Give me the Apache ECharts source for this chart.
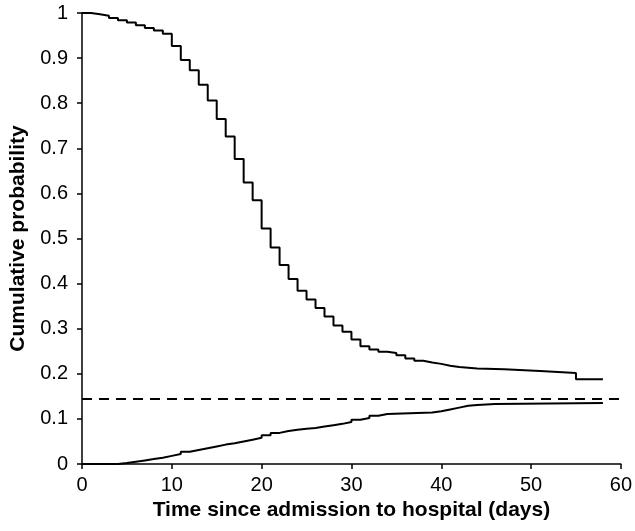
<!DOCTYPE html>
<html>
<head>
<meta charset="utf-8">
<script src="https://cdn.jsdelivr.net/npm/echarts@6/dist/echarts.min.js"></script>
<style>
  html, body { margin: 0; padding: 0; background: #fff; }
  #chart { width: 635px; height: 531px; }
</style>
</head>
<body>
<div id="chart"></div>
<script>
// upper curve (cumulative probability of remaining in hospital)
var survDays = [0,1,2,3,4,5,6,7,8,9,10,11,12,13,14,15,16,17,18,19,20,21,22,23,24,25,26,27,28,29,30,31,32,33,34,35,36,37,38,39,40,41,42,44,47,51,55,58];
var survVals = [1.000,0.997,0.994,0.989,0.984,0.979,0.973,0.967,0.961,0.954,0.927,0.896,0.873,0.841,0.806,0.765,0.726,0.676,0.624,0.585,0.522,0.480,0.441,0.410,0.384,0.365,0.346,0.327,0.307,0.293,0.276,0.261,0.254,0.249,0.246,0.241,0.234,0.229,0.225,0.222,0.218,0.215,0.212,0.210,0.206,0.202,0.188,0.188];

// lower curve
var incDays = [0,4,5,6,7,8,9,10,11,12,13,14,15,16,17,18,19,20,21,22,23,24,25,26,27,28,29,30,31,32,33,34,39,40,41,42,43,44,46,58];
var incVals = [0,0.002,0.005,0.008,0.011,0.014,0.018,0.022,0.027,0.031,0.035,0.039,0.043,0.046,0.050,0.054,0.058,0.064,0.069,0.073,0.076,0.078,0.080,0.083,0.086,0.089,0.093,0.098,0.102,0.107,0.111,0.114,0.117,0.121,0.125,0.129,0.131,0.133,0.135,0.135];

// dashed reference level
var refDays = [0, 60];
var refLevel = 0.144;

function zip(xs, ys) {
  return xs.map(function (x, i) { return [x, ys[i]]; });
}

var font = '"Liberation Sans", Arial, Helvetica, sans-serif';
var chart = echarts.init(document.getElementById('chart'));

chart.setOption({
  backgroundColor: '#fff',
  animation: false,
  grid: {
    left: 82,
    right: 12,
    top: 13,
    bottom: 67
  },
  xAxis: {
    type: 'value',
    min: 0,
    max: 60,
    interval: 10,
    name: 'Time since admission to hospital (days)',
    nameLocation: 'middle',
    nameGap: 35,
    nameTextStyle: { color: '#000', fontFamily: font, fontSize: 21, fontWeight: 'bold' },
    splitLine: { show: false },
    axisLine: { lineStyle: { color: '#000', width: 1.5 } },
    axisTick: { length: 5, lineStyle: { color: '#000', width: 1.5 } },
    axisLabel: { color: '#000', fontFamily: font, fontSize: 20, margin: 11 }
  },
  yAxis: {
    type: 'value',
    min: 0,
    max: 1,
    interval: 0.1,
    name: 'Cumulative probability',
    nameLocation: 'middle',
    nameGap: 53,
    nameRotate: 90,
    nameTextStyle: { color: '#000', fontFamily: font, fontSize: 21, fontWeight: 'bold' },
    splitLine: { show: false },
    axisLine: { show: true, lineStyle: { color: '#000', width: 1.5 } },
    axisTick: { show: true, length: 5, lineStyle: { color: '#000', width: 1.5 } },
    axisLabel: { color: '#000', fontFamily: font, fontSize: 20, margin: 14 }
  },
  series: [
    {
      type: 'line',
      step: 'end',
      showSymbol: false,
      lineStyle: { color: '#000', width: 2 },
      data: zip(survDays, survVals)
    },
    {
      type: 'line',
      step: 'end',
      showSymbol: false,
      lineStyle: { color: '#000', width: 2 },
      data: zip(incDays, incVals)
    },
    {
      type: 'line',
      showSymbol: false,
      lineStyle: { color: '#000', width: 2, type: [10, 7] },
      data: zip(refDays, [refLevel, refLevel])
    }
  ]
});
</script>
</body>
</html>
